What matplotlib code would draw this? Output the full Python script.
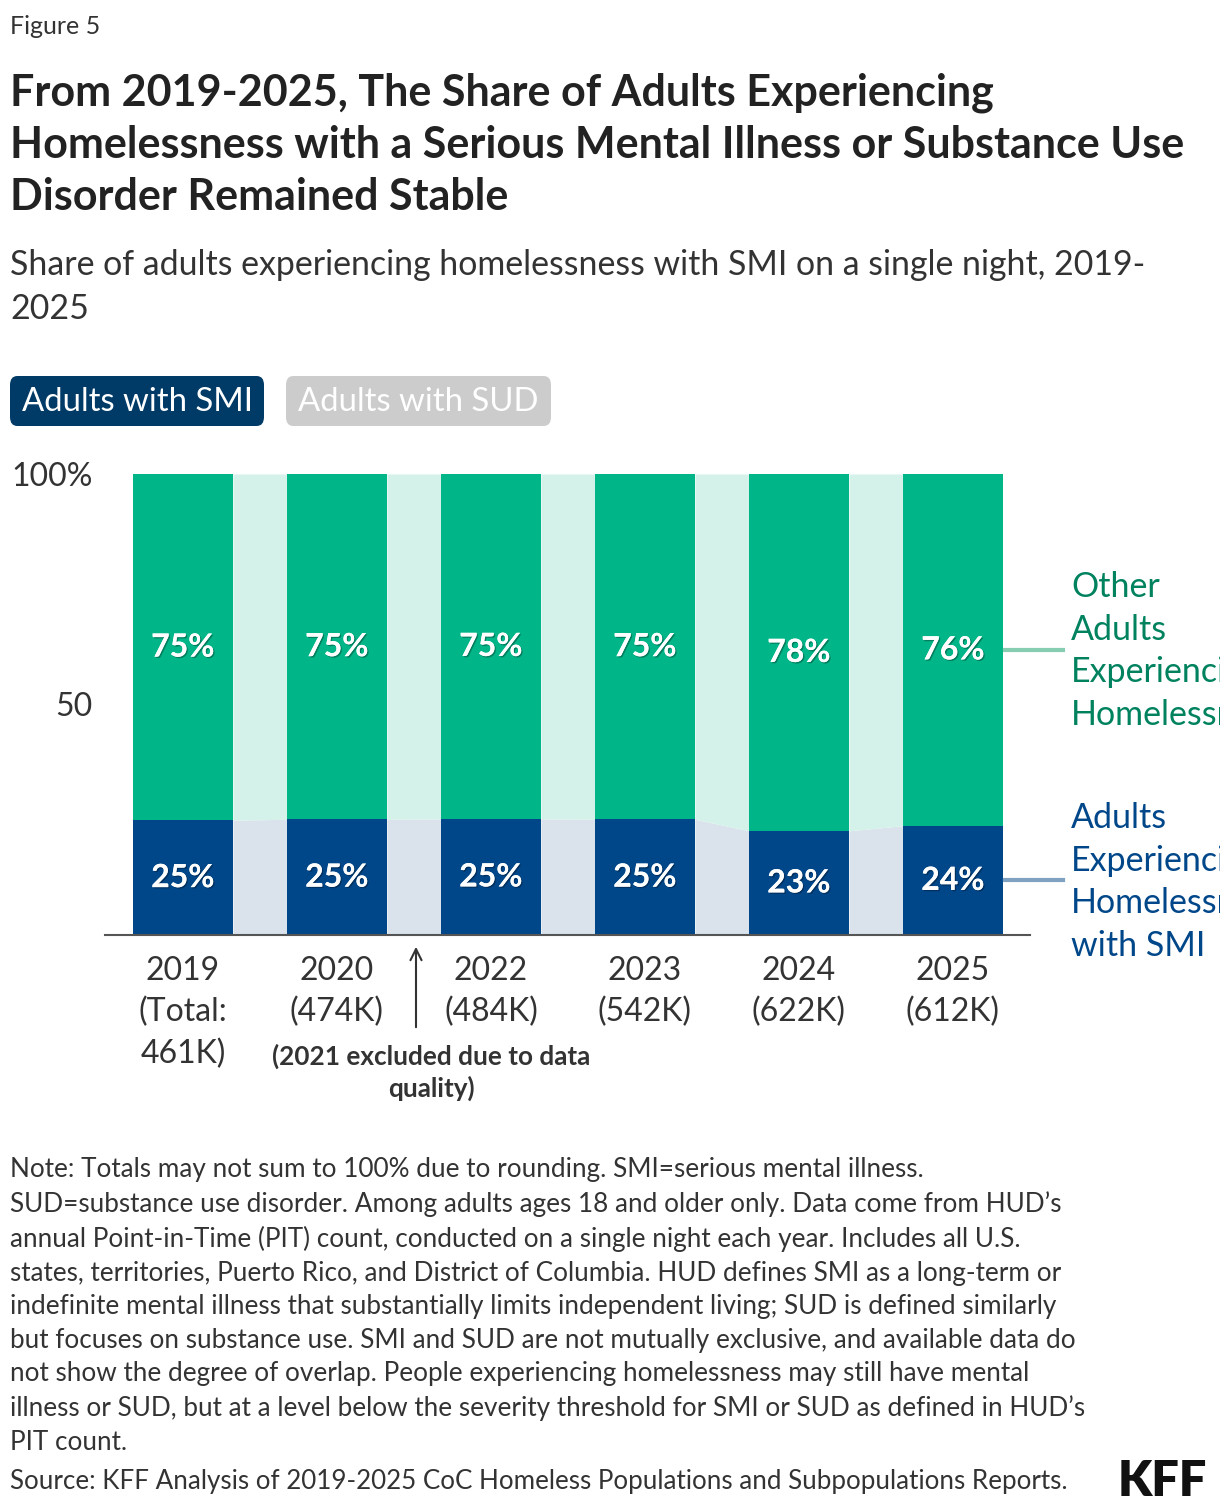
import numpy as np
import matplotlib.pyplot as plt
from matplotlib.patches import FancyBboxPatch
import matplotlib.patheffects as pe

# --- datos ---
years = ["2019\n(Total:\n461K)", "2020\n(474K)", "2022\n(484K)",
         "2023\n(542K)", "2024\n(622K)", "2025\n(612K)"]
smi_share = [24.9, 25.1, 25.2, 25.1, 22.6, 23.7]
other_share = [75.1, 74.9, 74.8, 74.9, 77.4, 76.3]
smi_labels = ["25%", "25%", "25%", "25%", "23%", "24%"]
other_labels = ["75%", "75%", "75%", "75%", "78%", "76%"]

W, H = 1220, 1512
C_SMI = "#00478a"
C_OTH = "#00b587"
C_SMI_L = "#dae3ec"
C_OTH_L = "#d5f2ea"
FONT = ["Lato", "DejaVu Sans"]
plt.rcParams['font.family'] = FONT


def px(x, y):
    return x / W, 1 - y / H


fig = plt.figure(figsize=(W / 100, H / 100), dpi=100)
l, b = px(105, 935)
r, t = px(1030, 474)
ax = fig.add_axes([l, b, r - l, t - b])

x = np.arange(len(years))
bw = 100 / 154
smi = np.array(smi_share)
oth = np.array(other_share)

# bandas entre barras
for i in range(len(x) - 1):
    xs = [x[i] + bw / 2, x[i + 1] - bw / 2]
    ax.fill_between(xs, [0, 0], smi[i:i + 2], color=C_SMI_L, lw=0)
    ax.fill_between(xs, smi[i:i + 2], smi[i:i + 2] + oth[i:i + 2], color=C_OTH_L, lw=0)

ax.bar(x, smi, width=bw, color=C_SMI, lw=0)
ax.bar(x, oth, width=bw, bottom=smi, color=C_OTH, lw=0)

shadow = [pe.withSimplePatchShadow(offset=(1, -1), shadow_rgbFace="black", alpha=0.3), pe.Normal()]
for xi, s, o, ls, lo in zip(x, smi, oth, smi_labels, other_labels):
    ax.text(xi, s / 2, ls, ha="center", va="center", color="white",
            fontsize=23, fontweight="bold", path_effects=shadow)
    ax.text(xi, s + o / 2, lo, ha="center", va="center", color="white",
            fontsize=23, fontweight="bold", path_effects=shadow)

ax.set_xlim(-0.506, 5.5)
ax.set_ylim(0, 100)
ax.set_xticks(x)
ax.set_xticklabels(years, fontsize=23, color="#333333", linespacing=1.45)
ax.set_yticks([50, 100])
ax.set_yticklabels(["50", "100%"], fontsize=23, color="#333333")
ax.tick_params(length=0, pad=9)
ax.tick_params(axis="x", pad=15)
for sp in ["top", "right", "left"]:
    ax.spines[sp].set_visible(False)
ax.spines["bottom"].set_color("#555555")
ax.spines["bottom"].set_linewidth(1.5)

# etiquetas a la derecha
fig.add_artist(plt.Line2D([1005 / W, 1063 / W], [px(0, 650)[1]] * 2, color="#86cdb2", lw=3))
fig.add_artist(plt.Line2D([1005 / W, 1063 / W], [px(0, 880)[1]] * 2, color="#7fa2c1", lw=3))
fig.text(*px(1071, 651), "Other\nAdults\nExperiencing\nHomelessness", color="#00825f",
         fontsize=24.5, va="center", ha="left", linespacing=1.42)
fig.text(*px(1071, 882), "Adults\nExperiencing\nHomelessness\nwith SMI", color="#00478a",
         fontsize=24.5, va="center", ha="left", linespacing=1.42)

# flecha 2021
ax.annotate("", xy=px(416, 944), xycoords="figure fraction",
            xytext=px(416, 1030), textcoords="figure fraction",
            arrowprops=dict(arrowstyle="->", color="#333333", lw=1.5, mutation_scale=20))
fig.text(*px(431, 1072), "(2021 excluded due to data\nquality)", ha="center", va="center",
         fontsize=18.8, fontweight="bold", color="#333333", linespacing=1.3)

# botones
for (x0, x1), lab, fc in [((10, 264), "Adults with SMI", "#003a66"),
                          ((286, 551), "Adults with SUD", "#cccccc")]:
    bx, by = px(x0, 426)
    bw_f = (x1 - x0) / W
    bh_f = 50 / H
    fig.add_artist(FancyBboxPatch((bx, by), bw_f, bh_f, boxstyle="round,pad=0,rounding_size=0.006",
                                  transform=fig.transFigure, fc=fc, ec="none"))
    fig.text((x0 + x1) / 2 / W, px(0, 402)[1], lab, ha="center", va="center",
             color="white", fontsize=23.7)

# textos
fig.text(*px(10, 27), "Figure 5", fontsize=18, color="#333333", va="center")
fig.text(*px(10, 145), "From 2019-2025, The Share of Adults Experiencing\n"
         "Homelessness with a Serious Mental Illness or Substance Use\n"
         "Disorder Remained Stable", fontsize=31, fontweight="bold",
         color="#222222", va="center", linespacing=1.37)
fig.text(*px(10, 287), "Share of adults experiencing homelessness with SMI on a single night, 2019-\n2025",
         fontsize=24.4, color="#333333", va="center", linespacing=1.45)

note = ("Note: Totals may not sum to 100% due to rounding. SMI=serious mental illness.\n"
        "SUD=substance use disorder. Among adults ages 18 and older only. Data come from HUD\u2019s\n"
        "annual Point-in-Time (PIT) count, conducted on a single night each year. Includes all U.S.\n"
        "states, territories, Puerto Rico, and District of Columbia. HUD defines SMI as a long-term or\n"
        "indefinite mental illness that substantially limits independent living; SUD is defined similarly\n"
        "but focuses on substance use. SMI and SUD are not mutually exclusive, and available data do\n"
        "not show the degree of overlap. People experiencing homelessness may still have mental\n"
        "illness or SUD, but at a level below the severity threshold for SMI or SUD as defined in HUD\u2019s\n"
        "PIT count.")
fig.text(*px(10, 1306), note, fontsize=18.8, color="#333333", va="center", linespacing=1.43)
fig.text(*px(10, 1482), "Source: KFF Analysis of 2019-2025 CoC Homeless Populations and Subpopulations Reports.",
         fontsize=18.7, color="#333333", va="center")
fig.text(*px(1207, 1481), "KFF", fontsize=35, fontweight="heavy", color="#111111",
         ha="right", va="center")

fig.savefig("out.png", dpi=100)
